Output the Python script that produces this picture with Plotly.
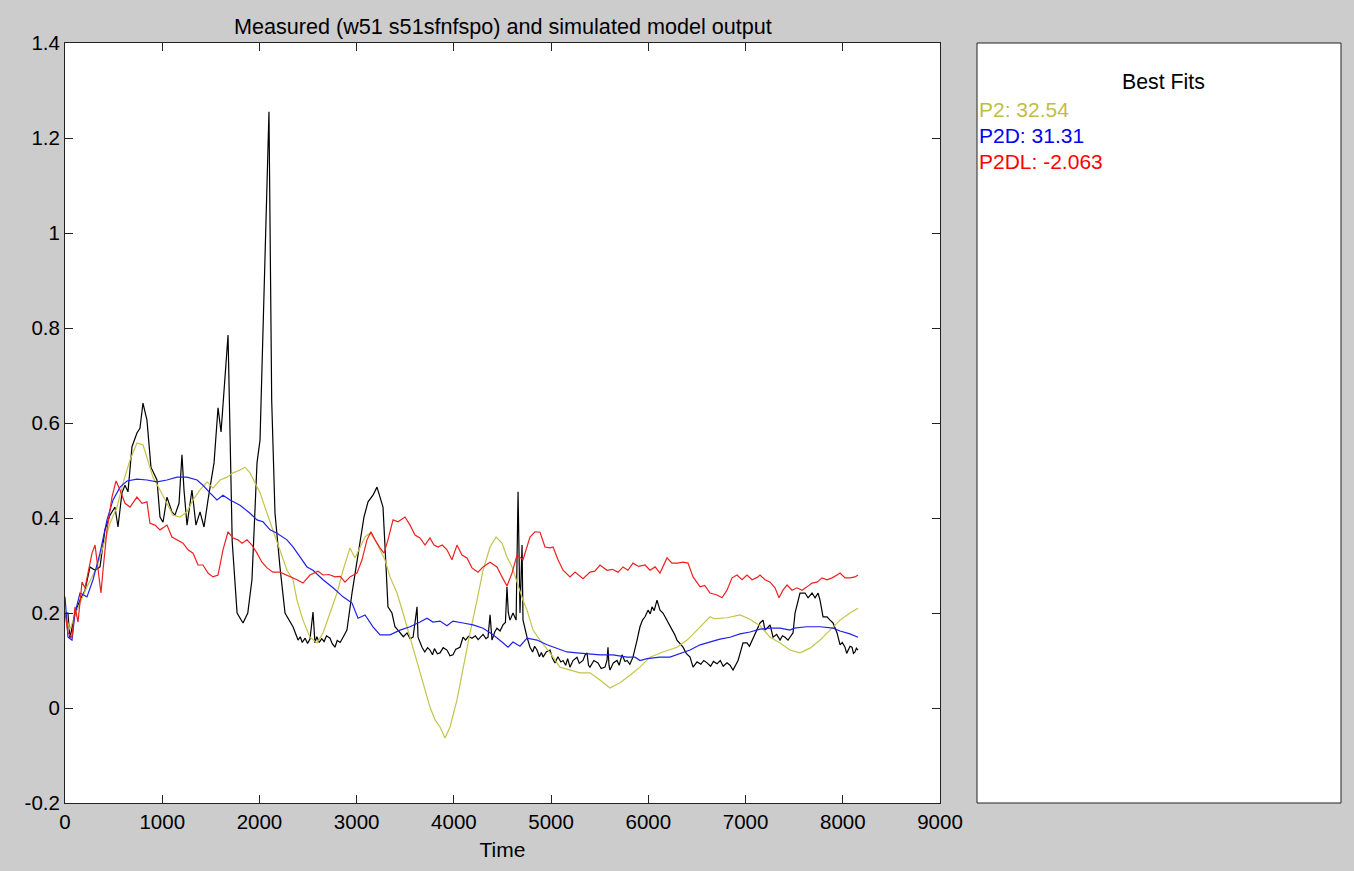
import plotly.graph_objects as go

W, H = 1354, 871

# ---------------- data ----------------
# measured output (time, value)
meas_t = ([0, 30, 51, 103, 154, 206, 257, 309, 360, 411, 463, 514, 545, 586, 617, 648, 689, 740, 771, 802,
           843, 884, 946, 977, 1008, 1049, 1100, 1131, 1173, 1203, 1224, 1255, 1306, 1347, 1389, 1430, 1471,
           1533, 1574, 1605, 1677, 1720, 1770, 1831, 1880, 1923, 1975, 2006, 2098, 2126, 2160, 2211, 2263,
           2345, 2397]
          + [2420, 2440, 2470, 2495, 2520, 2551, 2571, 2590, 2615, 2640, 2665, 2690, 2726, 2750, 2777, 2800,
             2830, 2860, 2900]
          + [2952, 3003, 3034, 3075, 3117, 3168, 3209, 3240, 3271, 3302, 3322, 3363, 3394, 3420, 3446, 3480,
             3518, 3550, 3580, 3621, 3631, 3672]
          + [3700, 3730, 3754, 3780, 3800, 3830, 3857, 3890, 3929, 3960, 3991, 4020, 4063, 4094, 4120, 4150,
             4186, 4220, 4250, 4269, 4300, 4330, 4351, 4372, 4392, 4420, 4443, 4475, 4505, 4530, 4546, 4560,
             4577, 4608, 4640, 4660, 4680, 4701, 4711, 4752]
          + [4783, 4810, 4830, 4855, 4880, 4900, 4917, 4950, 4989, 5015, 5040, 5070, 5100, 5123, 5150, 5170,
             5194, 5225, 5266, 5290, 5328, 5350, 5369, 5385, 5400, 5440, 5482, 5515, 5554, 5575, 5585, 5595,
             5606, 5640, 5678, 5700, 5729, 5760, 5781, 5810, 5842, 5884]
          + [5914, 5940, 5966, 5997, 6020, 6038, 6060, 6089, 6120, 6151, 6192, 6243, 6270, 6295, 6330, 6357,
             6390, 6429, 6460]
          + [6501, 6540, 6570, 6604, 6640, 6670, 6706, 6740, 6770, 6809, 6840, 6871, 6923, 6974, 7015, 7040,
             7067, 7098, 7149, 7180, 7200, 7230, 7252, 7283, 7320, 7355, 7380, 7406, 7437, 7460, 7488, 7509,
             7540, 7560, 7612, 7643, 7684, 7715, 7746, 7766, 7797, 7838, 7869, 7900, 7941]
          + [7960, 7972, 7995, 8023, 8040, 8054, 8075, 8095, 8110, 8126, 8140, 8157])
meas_y = ([0.200, 0.200, 0.147, 0.200, 0.227, 0.248, 0.297, 0.290, 0.297, 0.375, 0.406, 0.423, 0.381, 0.453,
           0.469, 0.455, 0.550, 0.579, 0.589, 0.642, 0.606, 0.507, 0.480, 0.402, 0.391, 0.444, 0.413, 0.406,
           0.431, 0.533, 0.459, 0.385, 0.459, 0.385, 0.413, 0.381, 0.438, 0.516, 0.632, 0.581, 0.785, 0.350,
           0.200, 0.179, 0.200, 0.270, 0.516, 0.564, 1.255, 0.648, 0.410, 0.297, 0.200, 0.171, 0.143]
          + [0.150, 0.138, 0.147, 0.136, 0.145, 0.202, 0.137, 0.150, 0.138, 0.146, 0.140, 0.152, 0.147, 0.135,
             0.128, 0.142, 0.138, 0.149, 0.164]
          + [0.242, 0.305, 0.347, 0.402, 0.434, 0.448, 0.465, 0.444, 0.423, 0.297, 0.213, 0.200, 0.171, 0.165,
             0.158, 0.150, 0.158, 0.146, 0.149, 0.213, 0.149, 0.128]
          + [0.118, 0.127, 0.122, 0.112, 0.125, 0.114, 0.116, 0.127, 0.122, 0.110, 0.112, 0.124, 0.128, 0.149,
             0.143, 0.151, 0.147, 0.152, 0.144, 0.149, 0.155, 0.146, 0.149, 0.196, 0.143, 0.160, 0.168, 0.162,
             0.175, 0.180, 0.255, 0.200, 0.185, 0.200, 0.185, 0.455, 0.200, 0.343, 0.185, 0.149]
          + [0.128, 0.118, 0.130, 0.122, 0.108, 0.117, 0.107, 0.118, 0.122, 0.104, 0.095, 0.108, 0.097, 0.100,
             0.090, 0.104, 0.086, 0.100, 0.107, 0.094, 0.100, 0.112, 0.116, 0.090, 0.086, 0.100, 0.095, 0.083,
             0.086, 0.100, 0.128, 0.090, 0.080, 0.095, 0.100, 0.090, 0.112, 0.098, 0.100, 0.092, 0.107, 0.143]
          + [0.171, 0.185, 0.192, 0.206, 0.198, 0.213, 0.205, 0.227, 0.206, 0.200, 0.185, 0.164, 0.155, 0.143,
             0.135, 0.128, 0.115, 0.107, 0.086]
          + [0.097, 0.092, 0.100, 0.095, 0.088, 0.098, 0.093, 0.100, 0.088, 0.095, 0.090, 0.080, 0.100, 0.137,
             0.137, 0.130, 0.143, 0.158, 0.179, 0.185, 0.164, 0.170, 0.175, 0.149, 0.155, 0.143, 0.152, 0.149,
             0.143, 0.150, 0.158, 0.200, 0.227, 0.242, 0.242, 0.232, 0.242, 0.232, 0.242, 0.227, 0.192, 0.192,
             0.185, 0.179, 0.158]
          + [0.140, 0.133, 0.138, 0.128, 0.115, 0.122, 0.130, 0.128, 0.115, 0.118, 0.126, 0.122])

p2_t = [0, 50, 123, 226, 329, 391, 463, 535, 597, 669, 740, 802, 854, 905, 977, 1049, 1111, 1183, 1255,
        1317, 1389, 1461, 1522, 1594, 1666, 1728, 1800, 1851, 1903, 1954, 2006, 2078, 2139, 2211, 2283,
        2345, 2386, 2448, 2520, 2592, 2654, 2726, 2798, 2860, 2931, 2983, 3034, 3086, 3137, 3189, 3240,
        3291, 3343, 3415, 3477, 3549, 3621, 3682, 3754, 3806, 3857, 3909, 3960, 4032, 4094, 4166, 4238,
        4300, 4372, 4434, 4495, 4546, 4598, 4649, 4711, 4752, 4814, 4886, 4989, 5091, 5194, 5297, 5400,
        5503, 5606, 5709, 5812, 5914, 6017, 6151, 6295, 6398, 6501, 6604, 6635, 6680, 6809, 6943, 7046,
        7149, 7252, 7355, 7457, 7560, 7663, 7766, 7869, 7972, 8074, 8157]
p2_y = [0.200, 0.165, 0.206, 0.255, 0.297, 0.339, 0.389, 0.423, 0.474, 0.522, 0.558, 0.554, 0.522, 0.486,
        0.459, 0.431, 0.406, 0.402, 0.413, 0.438, 0.459, 0.476, 0.463, 0.480, 0.486, 0.495, 0.501, 0.507,
        0.495, 0.474, 0.453, 0.410, 0.375, 0.333, 0.290, 0.270, 0.227, 0.185, 0.149, 0.137, 0.158, 0.200,
        0.242, 0.290, 0.337, 0.316, 0.339, 0.360, 0.368, 0.354, 0.333, 0.312, 0.276, 0.242, 0.200, 0.149,
        0.100, 0.053, 0.002, -0.025, -0.040, -0.063, -0.040, 0.017, 0.086, 0.158, 0.227, 0.290, 0.339,
        0.360, 0.347, 0.318, 0.297, 0.263, 0.227, 0.206, 0.164, 0.143, 0.116, 0.086, 0.080, 0.074, 0.074,
        0.059, 0.042, 0.053, 0.069, 0.086, 0.107, 0.118, 0.128, 0.143, 0.164, 0.185, 0.192, 0.188, 0.190,
        0.196, 0.187, 0.173, 0.149, 0.137, 0.122, 0.116, 0.126, 0.143, 0.164, 0.185, 0.200, 0.210]

p2d_t = [0, 31, 72, 103, 154, 226, 288, 360, 432, 494, 566, 638, 740, 843, 946, 1049, 1152, 1255, 1358,
         1419, 1491, 1563, 1625, 1697, 1800, 1903, 1975, 2037, 2109, 2180, 2283, 2345, 2417, 2489, 2551,
         2654, 2757, 2860, 2952, 3014, 3086, 3168, 3240, 3343, 3446, 3549, 3651, 3723, 3785, 3857, 3929,
         3991, 4094, 4197, 4300, 4403, 4495, 4557, 4608, 4680, 4752, 4855, 4958, 5061, 5163, 5266, 5369,
         5503, 5637, 5781, 5863, 5914, 5986, 6120, 6223, 6326, 6429, 6532, 6635, 6737, 6840, 6943, 7046,
         7149, 7252, 7355, 7457, 7500, 7629, 7766, 7900, 7972, 8074, 8157]
p2d_y = [0.234, 0.149, 0.143, 0.200, 0.242, 0.234, 0.270, 0.326, 0.396, 0.438, 0.465, 0.478, 0.482, 0.480,
         0.476, 0.480, 0.486, 0.486, 0.480, 0.469, 0.453, 0.438, 0.448, 0.438, 0.427, 0.410, 0.396, 0.392,
         0.375, 0.368, 0.354, 0.339, 0.318, 0.297, 0.290, 0.270, 0.253, 0.234, 0.221, 0.189, 0.196, 0.171,
         0.154, 0.154, 0.164, 0.171, 0.181, 0.189, 0.181, 0.183, 0.173, 0.183, 0.179, 0.175, 0.168, 0.154,
         0.139, 0.128, 0.139, 0.130, 0.147, 0.143, 0.133, 0.126, 0.118, 0.116, 0.114, 0.112, 0.112, 0.107,
         0.107, 0.100, 0.104, 0.107, 0.107, 0.114, 0.122, 0.133, 0.139, 0.145, 0.149, 0.156, 0.160, 0.166,
         0.168, 0.168, 0.164, 0.168, 0.171, 0.171, 0.168, 0.162, 0.156, 0.149]

p2dl_t = [0, 31, 72, 103, 134, 175, 206, 237, 278, 309, 329, 370, 391, 432, 483, 525, 566, 617, 669, 740,
          792, 843, 874, 926, 977, 1049, 1100, 1152, 1214, 1265, 1317, 1368, 1419, 1471, 1522, 1574, 1625,
          1677, 1728, 1779, 1821, 1872, 1923, 1975, 2026, 2078, 2139, 2211, 2283, 2314, 2386, 2448, 2520,
          2602, 2654, 2715, 2777, 2830, 2880, 2931, 3003, 3055, 3106, 3147, 3189, 3240, 3281, 3322, 3374,
          3425, 3497, 3549, 3600, 3651, 3703, 3754, 3795, 3837, 3880, 3929, 3980, 4032, 4083, 4135, 4186,
          4248, 4300, 4372, 4443, 4495, 4546, 4598, 4649, 4711, 4762, 4783, 4834, 4886, 4937, 4989, 5020,
          5071, 5123, 5194, 5246, 5328, 5400, 5450, 5503, 5575, 5630, 5688, 5740, 5790, 5842, 5900, 5966,
          6017, 6070, 6120, 6192, 6243, 6300, 6357, 6408, 6460, 6532, 6580, 6635, 6706, 6758, 6809, 6861,
          6912, 6964, 7015, 7067, 7120, 7149, 7200, 7252, 7303, 7344, 7385, 7427, 7478, 7529, 7581, 7632,
          7684, 7735, 7787, 7838, 7890, 7941, 7972, 8023, 8074, 8126, 8157]
p2dl_y = [0.200, 0.158, 0.149, 0.213, 0.181, 0.265, 0.253, 0.284, 0.326, 0.343, 0.312, 0.242, 0.290, 0.375,
          0.444, 0.478, 0.459, 0.431, 0.423, 0.444, 0.431, 0.434, 0.389, 0.385, 0.375, 0.385, 0.360, 0.354,
          0.347, 0.333, 0.326, 0.301, 0.301, 0.284, 0.276, 0.280, 0.333, 0.371, 0.358, 0.354, 0.347, 0.354,
          0.343, 0.326, 0.307, 0.295, 0.286, 0.286, 0.280, 0.276, 0.270, 0.263, 0.280, 0.288, 0.280, 0.281,
          0.276, 0.277, 0.265, 0.276, 0.284, 0.312, 0.354, 0.371, 0.354, 0.337, 0.326, 0.354, 0.396, 0.392,
          0.402, 0.385, 0.364, 0.358, 0.343, 0.358, 0.343, 0.339, 0.343, 0.333, 0.312, 0.343, 0.322, 0.316,
          0.295, 0.286, 0.297, 0.307, 0.297, 0.276, 0.257, 0.284, 0.322, 0.312, 0.350, 0.360, 0.371, 0.370,
          0.339, 0.337, 0.339, 0.312, 0.290, 0.276, 0.286, 0.272, 0.286, 0.288, 0.301, 0.290, 0.292, 0.286,
          0.297, 0.290, 0.305, 0.298, 0.301, 0.290, 0.297, 0.284, 0.316, 0.305, 0.305, 0.307, 0.305, 0.276,
          0.255, 0.258, 0.242, 0.238, 0.232, 0.248, 0.274, 0.280, 0.270, 0.280, 0.270, 0.275, 0.280, 0.270,
          0.265, 0.253, 0.232, 0.248, 0.259, 0.248, 0.253, 0.248, 0.255, 0.263, 0.265, 0.274, 0.270, 0.274,
          0.280, 0.284, 0.274, 0.274, 0.276, 0.280]

x_ticks = [0, 1000, 2000, 3000, 4000, 5000, 6000, 7000, 8000, 9000]
x_tick_text = ["0", "1000", "2000", "3000", "4000", "5000", "6000", "7000", "8000", "9000"]
y_ticks = [-0.2, 0, 0.2, 0.4, 0.6, 0.8, 1.0, 1.2, 1.4]
y_tick_text = ["-0.2", "0", "0.2", "0.4", "0.6", "0.8", "1", "1.2", "1.4"]

fit_labels = ["P2: 32.54", "P2D: 31.31", "P2DL: -2.063"]
fit_colors = ["#bfbf3f", "#0000ff", "#ff0000"]

# ---------------- figure ----------------
FONT = "Liberation Sans, Arial, Helvetica, sans-serif"
fig = go.Figure()
fig.add_trace(go.Scatter(x=meas_t, y=meas_y, mode="lines", line=dict(color="#000000", width=1.2), name="Measured"))
fig.add_trace(go.Scatter(x=p2_t, y=p2_y, mode="lines", line=dict(color="#c4c44a", width=1.2), name="P2"))
fig.add_trace(go.Scatter(x=p2d_t, y=p2d_y, mode="lines", line=dict(color="#2020ee", width=1.2), name="P2D"))
fig.add_trace(go.Scatter(x=p2dl_t, y=p2dl_y, mode="lines", line=dict(color="#ee2020", width=1.2), name="P2DL"))

x0p, x1p = 65 / W, 940 / W
y0p, y1p = 1 - 803 / H, 1 - 43 / H

axis_common = dict(showgrid=False, zeroline=False, showline=True, linecolor="#222222", linewidth=1,
                   mirror="ticks", ticks="inside", ticklen=8, tickcolor="#222222", tickwidth=1,
                   automargin=False,
                   tickfont=dict(family=FONT, size=20.5, color="#000000"))

fig.update_layout(
    width=W, height=H, autosize=False,
    margin=dict(l=0, r=0, t=0, b=0, pad=0, autoexpand=False),
    paper_bgcolor="#cccccc", plot_bgcolor="#ffffff",
    showlegend=False,
    font=dict(family=FONT, color="#000000"),
    xaxis=dict(domain=[x0p, x1p], range=[0, 9000], tickvals=x_ticks, ticktext=x_tick_text,
               title=dict(text="Time", font=dict(family=FONT, size=21), standoff=10), **axis_common),
    yaxis=dict(domain=[y0p, y1p], range=[-0.2, 1.4], tickvals=y_ticks, ticktext=y_tick_text, **axis_common),
)

# title
fig.add_annotation(x=(x0p + x1p) / 2, y=1 - 27 / H, xref="paper", yref="paper",
                   text="Measured (w51 s51sfnfspo) and simulated model output",
                   showarrow=False, font=dict(family=FONT, size=21.6, color="#000000"),
                   xanchor="center", yanchor="middle")

# right panel
fig.add_shape(type="rect", xref="paper", yref="paper", x0=977 / W, x1=1341 / W, y0=y0p, y1=y1p,
              fillcolor="#ffffff", line=dict(color="#222222", width=1), layer="below")
fig.add_annotation(x=1163 / W, y=1 - 82 / H, xref="paper", yref="paper", text="Best Fits",
                   showarrow=False, font=dict(family=FONT, size=21.3, color="#000000"),
                   xanchor="center", yanchor="middle")
for i, (lab, col) in enumerate(zip(fit_labels, fit_colors)):
    fig.add_annotation(x=977 / W, y=1 - (109 + 26.5 * i) / H, xref="paper", yref="paper", text=lab,
                       showarrow=False, font=dict(family=FONT, size=21, color=col),
                       xanchor="left", yanchor="middle")

fig.write_html("out.html")
